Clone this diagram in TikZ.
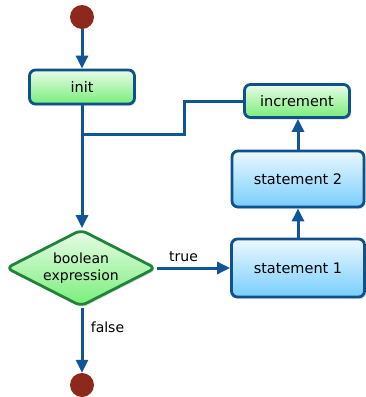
\documentclass[tikz,border=0pt]{standalone}
\usepackage{fontspec}
\setmainfont{DejaVu Sans}
\usetikzlibrary{arrows.meta,shapes.geometric,shadows}

\definecolor{flowline}{RGB}{16,86,150}
\definecolor{greenedge}{RGB}{34,130,60}
\definecolor{blueedge}{RGB}{16,80,140}
\definecolor{greentop}{RGB}{232,252,232}
\definecolor{greenbot}{RGB}{120,238,120}
\definecolor{bluetop}{RGB}{236,248,255}
\definecolor{bluebot}{RGB}{120,206,252}
\definecolor{terminal}{RGB}{140,40,28}

\tikzset{
  x=1pt, y=-1pt,
  every node/.style={font=\fontsize{14.5}{17}\selectfont},
  boxbase/.style={rectangle, rounded corners=6pt, line width=2.8pt,
    drop shadow={shadow xshift=1.5pt, shadow yshift=-2pt, opacity=0.25}},
  greenbox/.style={boxbase, draw=blueedge, top color=greentop, bottom color=greenbot},
  bluebox/.style={boxbase, draw=blueedge, top color=bluetop, bottom color=bluebot},
  decision/.style={diamond, aspect=1.95, rounded corners=6pt, line width=2.8pt,
    draw=greenedge, top color=greentop, bottom color=greenbot,
    inner sep=0pt, minimum width=150pt, minimum height=77pt, align=center,
    font=\fontsize{14}{17}\selectfont,
    drop shadow={shadow xshift=1.5pt, shadow yshift=-2pt, opacity=0.25}},
  endpoint/.style={circle, fill=terminal, minimum size=24pt, inner sep=0pt},
  flow/.style={draw=flowline, line width=3pt},
  flowarrow/.style={flow, -{Triangle[length=13pt,width=12pt]}},
  caption/.style={font=\fontsize{14}{16}\selectfont}
}

\begin{document}
\begin{tikzpicture}
  \useasboundingbox (0,0) rectangle (366,397);

  % terminals
  \node[endpoint] (start) at (82,17) {};
  \node[endpoint] (stop) at (82,385) {};

  % actions
  \node[greenbox, minimum width=105pt, minimum height=34pt] (init) at (82,87) {init};
  \node[greenbox, minimum width=105pt, minimum height=33pt] (incr) at (297,101) {increment};
  \node[bluebox, minimum width=132pt, minimum height=56pt] (stmtB) at (298,179) {statement 2};
  \node[bluebox, minimum width=133pt, minimum height=58pt] (stmtA) at (298,268) {statement 1};

  % test
  \node[decision] (test) at (81,268) {boolean\\expression};

  % loop-back junction
  \coordinate (join) at (80.5,134);
  \coordinate (bend) at (184,134);
  \coordinate (bendtop) at (184,101);

  % connectors
  \draw[flowarrow] (start) -- (init);
  \draw[flowarrow] (init.south) -- (init.south |- test.north);
  \draw[flow] (incr.west) -- (bendtop) -- (bend) -- (join);
  \draw[flowarrow] (test.east) -- node[above, caption, pos=0.36, yshift=1pt] {true} (stmtA.west);
  \draw[flowarrow] (stmtA.north) -- (stmtB.south);
  \draw[flowarrow] (stmtB.north) -- (incr.south -| stmtB.north);
  \draw[flowarrow] (init.south |- test.south) -- node[right, caption, pos=0.3, xshift=4pt] {false} (stop.north);
\end{tikzpicture}
\end{document}
